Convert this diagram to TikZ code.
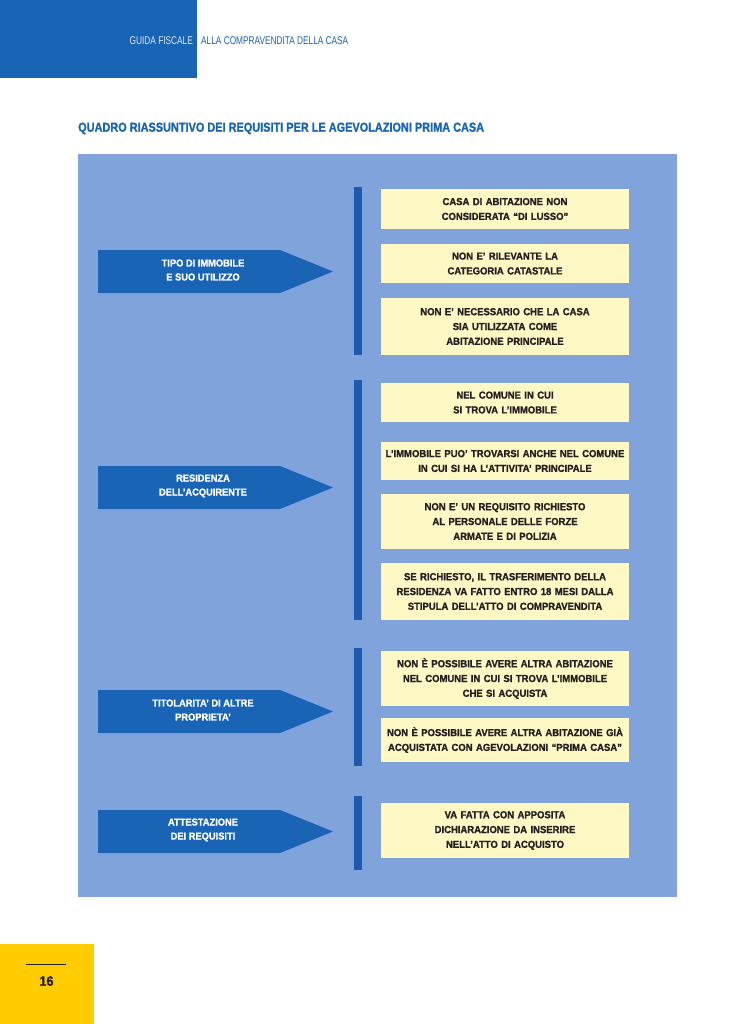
\documentclass[tikz,border=0pt]{standalone}
\usepackage{fontspec}
\setmainfont{Liberation Sans}[FakeStretch=0.93, BoldFeatures={FakeBold=1.2}]
\newfontfamily\titlefont{Liberation Sans}[FakeStretch=0.84, BoldFeatures={FakeBold=1.2}]
\newfontfamily\headfont{Liberation Sans}[FakeStretch=0.74]
\usetikzlibrary{positioning}
\definecolor{GuideBlue}{RGB}{26,100,182}
\definecolor{PanelBlue}{RGB}{128,163,219}
\definecolor{BarBlue}{RGB}{30,90,176}
\definecolor{NoteYellow}{RGB}{254,248,196}
\definecolor{PageYellow}{RGB}{255,204,0}
\definecolor{NoteText}{RGB}{35,31,32}

\begin{document}
\begin{tikzpicture}[
  x=1pt, y=-1pt,
  note/.style={fill=NoteYellow, minimum width=248, text width=246, inner sep=0, align=center,
    text=NoteText, font=\bfseries\fontsize{10.2}{14.8}\selectfont},
  cattext/.style={text=white, align=center, inner sep=0, font=\bfseries\fontsize{10}{14}\selectfont},
  catarrow/.style={fill=GuideBlue},
  bar/.style={fill=BarBlue}
]
  \useasboundingbox (0,0) rectangle (728,1024);
  \fill[white] (0,0) rectangle (728,1024);

  % header
  \fill[GuideBlue] (0,0) rectangle (197,78);
  \node[anchor=base east, inner sep=0, text=white!85!GuideBlue, font=\headfont\fontsize{11.2}{13}\selectfont] (guide) at (193,44.3) {GUIDA FISCALE};
  \node[anchor=base west, inner sep=0, text=GuideBlue, font=\headfont\fontsize{11.2}{13}\selectfont] (sub) at (201,44.3) {ALLA COMPRAVENDITA DELLA CASA};

  % title
  \node[anchor=base west, inner sep=0, text=GuideBlue, font=\titlefont\bfseries\fontsize{13}{15}\selectfont] (title) at (78,131.7) {QUADRO RIASSUNTIVO DEI REQUISITI PER LE AGEVOLAZIONI PRIMA CASA};

  % panel
  \fill[PanelBlue] (78,154) rectangle (677,897);

  % categories
  \fill[catarrow] (98,250) -- (280,250) -- (333,271.5) -- (280,293) -- (98,293) -- cycle;
  \node[cattext] (tipo) at (203,270) {TIPO DI IMMOBILE\\E SUO UTILIZZO};
  \fill[catarrow] (98,466) -- (280,466) -- (333,487.5) -- (280,509) -- (98,509) -- cycle;
  \node[cattext] (residenza) at (203,486) {RESIDENZA\\DELL'ACQUIRENTE};
  \fill[catarrow] (98,690) -- (280,690) -- (333,711.5) -- (280,733) -- (98,733) -- cycle;
  \node[cattext] (titolarita) at (203,710) {TITOLARITA' DI ALTRE\\PROPRIETA'};
  \fill[catarrow] (98,810) -- (280,810) -- (333,831.5) -- (280,853) -- (98,853) -- cycle;
  \node[cattext] (attestazione) at (203,830) {ATTESTAZIONE\\DEI REQUISITI};

  % bars
  \fill[bar] (354,187) rectangle (361.5,355);
  \fill[bar] (354,380) rectangle (361.5,620);
  \fill[bar] (354,648) rectangle (361.5,766);
  \fill[bar] (354,796) rectangle (361.5,870);

  % requirements
  \node[note, minimum height=40] (req1) at (505,209) {CASA DI ABITAZIONE NON\\CONSIDERATA ``DI LUSSO''};
  \node[note, minimum height=39] (req2) at (505,263.5) {NON E' RILEVANTE LA\\CATEGORIA CATASTALE};
  \node[note, minimum height=57] (req3) at (505,326.5) {NON E' NECESSARIO CHE LA CASA\\SIA UTILIZZATA COME\\ABITAZIONE PRINCIPALE};

  \node[note, minimum height=39] (req4) at (505,402.5) {NEL COMUNE IN CUI\\SI TROVA L'IMMOBILE};
  \node[note, minimum height=38] (req5) at (505,461) {L'IMMOBILE PUO' TROVARSI ANCHE NEL COMUNE\\IN CUI SI HA L'ATTIVITA' PRINCIPALE};
  \node[note, minimum height=55] (req6) at (505,521.5) {NON E' UN REQUISITO RICHIESTO\\AL PERSONALE DELLE FORZE\\ARMATE E DI POLIZIA};
  \node[note, minimum height=57] (req7) at (505,591.5) {SE RICHIESTO, IL TRASFERIMENTO DELLA\\RESIDENZA VA FATTO ENTRO 18 MESI DALLA\\STIPULA DELL'ATTO DI COMPRAVENDITA};

  \node[note, minimum height=55] (req8) at (505,678.5) {NON È POSSIBILE AVERE ALTRA ABITAZIONE\\NEL COMUNE IN CUI SI TROVA L'IMMOBILE\\CHE SI ACQUISTA};
  \node[note, minimum height=44] (req9) at (505,740) {NON È POSSIBILE AVERE ALTRA ABITAZIONE GIÀ\\ACQUISTATA CON AGEVOLAZIONI ``PRIMA CASA''};

  \node[note, minimum height=55] (req10) at (505,830.5) {VA FATTA CON APPOSITA\\DICHIARAZIONE DA INSERIRE\\NELL'ATTO DI ACQUISTO};

  % page number
  \fill[PageYellow] (0,944) rectangle (94,1024);
  \draw[NoteText, line width=1] (26,964) -- (66,964);
  \node[anchor=base, inner sep=0, text=NoteText, font=\bfseries\fontsize{13.5}{15}\selectfont] (page) at (46.5,985.7) {16};
\end{tikzpicture}
\end{document}
